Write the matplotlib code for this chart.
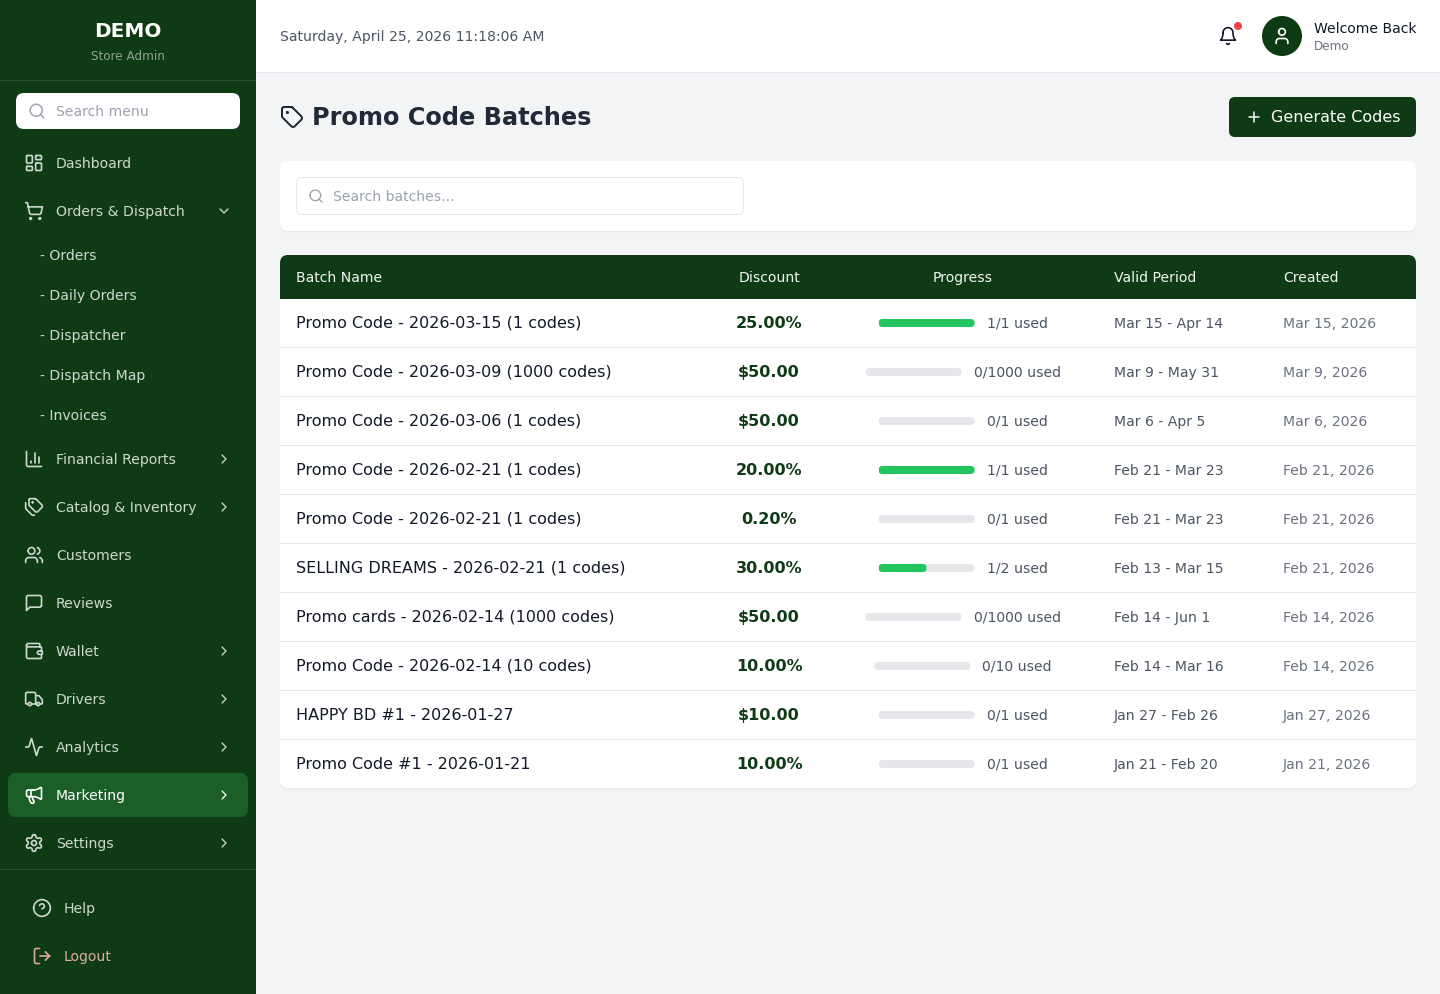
import re
import math
import matplotlib
matplotlib.use("Agg")
import matplotlib.pyplot as plt
from matplotlib.patches import FancyBboxPatch, PathPatch, Circle, Rectangle
from matplotlib.path import Path

# ---------- content ----------
BATCH_NAMES = ["Promo Code - 2026-03-15 (1 codes)", "Promo Code - 2026-03-09 (1000 codes)",
               "Promo Code - 2026-03-06 (1 codes)", "Promo Code - 2026-02-21 (1 codes)",
               "Promo Code - 2026-02-21 (1 codes)", "SELLING DREAMS - 2026-02-21 (1 codes)",
               "Promo cards - 2026-02-14 (1000 codes)", "Promo Code - 2026-02-14 (10 codes)",
               "HAPPY BD #1 - 2026-01-27", "Promo Code #1 - 2026-01-21"]
DISCOUNTS = ["25.00%", "$50.00", "$50.00", "20.00%", "0.20%", "30.00%", "$50.00", "10.00%", "$10.00", "10.00%"]
USED = [1, 0, 0, 1, 0, 1, 0, 0, 0, 0]
TOTAL = [1, 1000, 1, 1, 1, 2, 1000, 10, 1, 1]
PERIODS = ["Mar 15 - Apr 14", "Mar 9 - May 31", "Mar 6 - Apr 5", "Feb 21 - Mar 23", "Feb 21 - Mar 23",
           "Feb 13 - Mar 15", "Feb 14 - Jun 1", "Feb 14 - Mar 16", "Jan 27 - Feb 26", "Jan 21 - Feb 20"]
CREATED = ["Mar 15, 2026", "Mar 9, 2026", "Mar 6, 2026", "Feb 21, 2026", "Feb 21, 2026",
           "Feb 21, 2026", "Feb 14, 2026", "Feb 14, 2026", "Jan 27, 2026", "Jan 21, 2026"]
SUB_ITEMS = ["- Orders", "- Daily Orders", "- Dispatcher", "- Dispatch Map", "- Invoices"]

# ---------- icons (24 unit grid) ----------
ICONS = {
 "search": ["M21 21 L16.7 16.7", "C 11 11 8"],
 "dash": ["R 3 3 7 9 1", "R 14 3 7 5 1", "R 14 12 7 9 1", "R 3 16 7 5 1"],
 "cart": ["C 8 21 1", "C 19 21 1", "M2.05 2.05h2l2.66 12.42a2 2 0 0 0 2 1.58h9.78a2 2 0 0 0 1.95-1.57l1.65-7.43H5.12"],
 "down": ["M6 9l6 6 6-6"],
 "right": ["M9 18l6-6-6-6"],
 "chart": ["M3 3v16a2 2 0 0 0 2 2h16", "M18 17V9", "M13 17V5", "M8 17v-3"],
 "tags": ["M13.172 2a2 2 0 0 1 1.414.586l6.71 6.71a2.4 2.4 0 0 1 0 3.408l-4.592 4.592a2.4 2.4 0 0 1-3.408 0l-6.71-6.71A2 2 0 0 1 6 9.172V3a1 1 0 0 1 1-1z",
          "M2 7v6.172a2 2 0 0 0 .586 1.414l6.71 6.71a2.4 2.4 0 0 0 3.18.262", "C 10.5 6.5 .5"],
 "users": ["M16 21v-2a4 4 0 0 0-4-4H6a4 4 0 0 0-4 4v2", "C 9 7 4", "M22 21v-2a4 4 0 0 0-3-3.87", "M16 3.13a4 4 0 0 1 0 7.75"],
 "msg": ["M21 15a2 2 0 0 1-2 2H7l-4 4V5a2 2 0 0 1 2-2h14a2 2 0 0 1 2 2z"],
 "wallet": ["M19 7V4a1 1 0 0 0-1-1H5a2 2 0 0 0 0 4h15a1 1 0 0 1 1 1v4h-3a2 2 0 0 0 0 4h3a1 1 0 0 0 1-1v-2a1 1 0 0 0-1-1",
            "M3 5v14a2 2 0 0 0 2 2h15a1 1 0 0 0 1-1v-4"],
 "truck": ["M14 18V6a2 2 0 0 0-2-2H4a2 2 0 0 0-2 2v11a1 1 0 0 0 1 1h2", "M15 18H9",
           "M19 18h2a1 1 0 0 0 1-1v-3.65a1 1 0 0 0-.22-.624l-3.48-4.35A1 1 0 0 0 17.52 8H14", "C 17 18 2", "C 7 18 2"],
 "activity": ["M22 12h-2.48a2 2 0 0 0-1.93 1.46l-2.35 8.36a.25.25 0 0 1-.48 0L9.24 2.18a.25.25 0 0 0-.48 0l-2.35 8.36A2 2 0 0 1 4.49 12H2"],
 "mega": ["M11 6a13 13 0 0 0 8.4-2.8A1 1 0 0 1 21 4v12a1 1 0 0 1-1.6.8A13 13 0 0 0 11 14H5a2 2 0 0 1-2-2V8a2 2 0 0 1 2-2z",
          "M6 14a12 12 0 0 0 2.4 7.2 2 2 0 0 0 3.2-2.4A8 8 0 0 1 10 14", "M8 6v8"],
 "gear": ["M12.22 2h-.44a2 2 0 0 0-2 2v.18a2 2 0 0 1-1 1.73l-.43.25a2 2 0 0 1-2 0l-.15-.08a2 2 0 0 0-2.73.73l-.22.38a2 2 0 0 0 .73 2.73l.15.1a2 2 0 0 1 1 1.72v.51a2 2 0 0 1-1 1.74l-.15.09a2 2 0 0 0-.73 2.73l.22.38a2 2 0 0 0 2.73.73l.15-.08a2 2 0 0 1 2 0l.43.25a2 2 0 0 1 1 1.73V20a2 2 0 0 0 2 2h.44a2 2 0 0 0 2-2v-.18a2 2 0 0 1 1-1.73l.43-.25a2 2 0 0 1 2 0l.15.08a2 2 0 0 0 2.73-.73l.22-.39a2 2 0 0 0-.73-2.73l-.15-.08a2 2 0 0 1-1-1.74v-.5a2 2 0 0 1 1-1.74l.15-.09a2 2 0 0 0 .73-2.73l-.22-.38a2 2 0 0 0-2.73-.73l-.15.08a2 2 0 0 1-2 0l-.43-.25a2 2 0 0 1-1-1.73V4a2 2 0 0 0-2-2z", "C 12 12 3"],
 "help": ["C 12 12 10", "M9.09 9a3 3 0 0 1 5.83 1c0 2-3 3-3 3", "M12 17h.01"],
 "logout": ["M9 21H5a2 2 0 0 1-2-2V5a2 2 0 0 1 2-2h4", "M16 17l5-5-5-5", "M21 12H9"],
 "bell": ["M6 8a6 6 0 0 1 12 0c0 7 3 9 3 9H3s3-2 3-9", "M10.3 21a1.94 1.94 0 0 0 3.4 0"],
 "user": ["M19 21v-2a4 4 0 0 0-4-4H9a4 4 0 0 0-4 4v2", "C 12 7 4"],
 "plus": ["M5 12h14", "M12 5v14"],
 "tag": ["M12.586 2.586A2 2 0 0 0 11.172 2H4a2 2 0 0 0-2 2v7.172a2 2 0 0 0 .586 1.414l8.704 8.704a2.426 2.426 0 0 0 3.42 0l6.58-6.58a2.426 2.426 0 0 0 0-3.42z", "C 7.5 7.5 .5"],
}
NUM = r"[-+]?(?:\d*\.\d+|\d+)"


def arc_to_cubics(x1, y1, rx, ry, large, sweep, x2, y2):
    # circular arcs only are needed by the icons
    r = rx
    dx, dy = (x1 - x2) / 2, (y1 - y2) / 2
    d2 = dx * dx + dy * dy
    if d2 == 0:
        return []
    if d2 > r * r:
        r = math.sqrt(d2)
    k = math.sqrt(max(0, (r * r - d2) / d2))
    if large == sweep:
        k = -k
    cxp, cyp = k * dy, -k * dx
    cx, cy = cxp + (x1 + x2) / 2, cyp + (y1 + y2) / 2
    t1 = math.atan2(y1 - cy, x1 - cx)
    t2 = math.atan2(y2 - cy, x2 - cx)
    dt = t2 - t1
    if sweep and dt < 0:
        dt += 2 * math.pi
    if not sweep and dt > 0:
        dt -= 2 * math.pi
    n = max(1, int(math.ceil(abs(dt) / (math.pi / 2))))
    out = []
    a = 4 / 3 * math.tan(dt / n / 4)
    for i in range(n):
        s = t1 + dt * i / n
        e = t1 + dt * (i + 1) / n
        p0 = (cx + r * math.cos(s), cy + r * math.sin(s))
        p3 = (cx + r * math.cos(e), cy + r * math.sin(e))
        out.append((p0[0] - a * r * math.sin(s), p0[1] + a * r * math.cos(s),
                    p3[0] + a * r * math.sin(e), p3[1] - a * r * math.cos(e), p3[0], p3[1]))
    return out


def parse_svg(d):
    verts, codes = [], []
    x = y = sx = sy = 0.0
    lastc = None
    for cmd, body in re.findall(r"([MmLlHhVvCcSsAaZz])([^MmLlHhVvCcSsAaZz]*)", d):
        v = [float(t) for t in re.findall(NUM, body)]
        rel = cmd.islower()
        c = cmd.upper()
        if c == "Z":
            verts.append((sx, sy)); codes.append(Path.LINETO)
            x, y = sx, sy
            lastc = None
            continue
        size = {"M": 2, "L": 2, "H": 1, "V": 1, "C": 6, "S": 4, "A": 7}[c]
        for i in range(0, len(v), size):
            a = v[i:i + size]
            ox, oy = (x, y) if rel else (0, 0)
            if c not in "CS":
                lastc = None
            if c == "M" and i == 0:
                x, y = a[0] + ox, a[1] + oy
                sx, sy = x, y
                verts.append((x, y)); codes.append(Path.MOVETO)
            elif c in "ML":
                x, y = a[0] + ox, a[1] + oy
                verts.append((x, y)); codes.append(Path.LINETO)
            elif c == "H":
                x = a[0] + ox
                verts.append((x, y)); codes.append(Path.LINETO)
            elif c == "V":
                y = a[0] + oy
                verts.append((x, y)); codes.append(Path.LINETO)
            elif c == "C":
                pts = [(a[0] + ox, a[1] + oy), (a[2] + ox, a[3] + oy), (a[4] + ox, a[5] + oy)]
                verts += pts; codes += [Path.CURVE4] * 3
                lastc = pts[1]
                x, y = pts[2]
            elif c == "S":
                c1 = (2 * x - lastc[0], 2 * y - lastc[1]) if lastc else (x, y)
                pts = [c1, (a[0] + ox, a[1] + oy), (a[2] + ox, a[3] + oy)]
                verts += pts; codes += [Path.CURVE4] * 3
                lastc = pts[1]
                x, y = pts[2]
            elif c == "A":
                ex, ey = a[5] + ox, a[6] + oy
                for q in arc_to_cubics(x, y, a[0], a[1], int(a[3]), int(a[4]), ex, ey):
                    verts += [(q[0], q[1]), (q[2], q[3]), (q[4], q[5])]
                    codes += [Path.CURVE4] * 3
                x, y = ex, ey
    return verts, codes


def expand(item):
    if item.startswith("C "):
        cx, cy, r = [float(t) for t in re.findall(NUM, item[2:])]
        return f"M{cx - r} {cy}A{r} {r} 0 1 1 {cx + r} {cy}A{r} {r} 0 1 1 {cx - r} {cy}"
    if item.startswith("R "):
        x, y, w, h, r = [float(t) for t in re.findall(NUM, item[2:])]
        return (f"M{x + r} {y}H{x + w - r}A{r} {r} 0 0 1 {x + w} {y + r}V{y + h - r}A{r} {r} 0 0 1 {x + w - r} {y + h}"
                f"H{x + r}A{r} {r} 0 0 1 {x} {y + h - r}V{y + r}A{r} {r} 0 0 1 {x + r} {y}")
    return item


# ---------- canvas ----------
W, H = 1440, 994
fig = plt.figure(figsize=(W / 100, H / 100), dpi=100)
ax = fig.add_axes([0, 0, 1, 1])
ax.set_xlim(0, W)
ax.set_ylim(H, 0)
ax.axis("off")
plt.rcParams["font.family"] = ["DejaVu Sans"]

BG = "#f3f4f6"
GREEN = "#0f3b14"
ACTIVE = "#1b5e28"
MENU = "#cdd8ce"
LINE = "#e5e7eb"


def icon(name, cx, cy, size, color, stroke=2.0):
    s = size / 24
    for item in ICONS[name]:
        v, c = parse_svg(expand(item))
        v = [(cx + (px - 12) * s, cy + (py - 12) * s) for px, py in v]
        ax.add_patch(PathPatch(Path(v, c), fill=False, ec=color, lw=stroke * s * 0.72,
                               capstyle="round", joinstyle="round", zorder=6))


def T(x, base, s, px, color, weight="normal", ha="left"):
    return ax.text(x, base - 0.3, s, fontsize=px * 0.72, color=color, fontweight=weight,
                   ha=ha, va="baseline", zorder=7, family="DejaVu Sans")


def box(x0, y0, x1, y1, r, fc, ec="none", lw=0, z=2):
    p = FancyBboxPatch((x0 + r, y0 + r), x1 - x0 - 2 * r, y1 - y0 - 2 * r,
                       boxstyle=f"round,pad={r},rounding_size={r}", fc=fc, ec=ec, lw=lw, zorder=z)
    ax.add_patch(p)
    return p


def rect(x0, y0, x1, y1, fc, z=1):
    ax.add_patch(Rectangle((x0, y0), x1 - x0, y1 - y0, fc=fc, ec="none", zorder=z))


def shadow(x0, y0, x1, y1, r):
    box(x0, y0 + 2, x1, y1 + 2, r, "#eff0f2", z=1)
    box(x0, y0 + 1, x1, y1 + 1, r, "#e6e8eb", z=1)


# ---------- page ----------
rect(0, 0, W, H, BG, 0)
rect(256, 0, W, 72, "white")
rect(256, 72, W, 73, LINE)

# ---------- sidebar ----------
rect(0, 0, 256, H, GREEN)
T(128, 37, "DEMO", 20, "white", "bold", "center")
T(128, 60, "Store Admin", 12, "#8da391", ha="center")
rect(0, 80, 256, 81, "#274f2c", 2)
rect(0, 869, 256, 870, "#274f2c", 2)
box(16, 93, 240, 129, 8, "white")
icon("search", 37, 111, 18, "#9ca3af", 2)
T(56, 116, "Search menu", 14, "#9ca3af")
box(8, 773, 248, 817, 8, ACTIVE)

MENU_ROWS = [("Dashboard", "dash", 163, None), ("Orders & Dispatch", "cart", 211, "down"),
             ("Financial Reports", "chart", 459, "right"), ("Catalog & Inventory", "tags", 507, "right"),
             ("Customers", "users", 555, None), ("Reviews", "msg", 603, None), ("Wallet", "wallet", 651, "right"),
             ("Drivers", "truck", 699, "right"), ("Analytics", "activity", 747, "right"),
             ("Marketing", "mega", 795, "right"), ("Settings", "gear", 843, "right")]
for label, ic, y, chev in MENU_ROWS:
    col = "white" if label == "Marketing" else MENU
    icon(ic, 34, y, 20, col, 2)
    T(56, y + 5, label, 14, col)
    if chev:
        icon(chev, 224, y, 16, col, 2)
for i, label in enumerate(SUB_ITEMS):
    T(40, 260 + 40 * i, label, 14, MENU)
icon("help", 42, 908, 20, MENU, 2)
T(64, 913, "Help", 14, MENU)
icon("logout", 42, 956, 20, "#e0aa98", 2)
T(64, 961, "Logout", 14, "#e0aa98")

# ---------- top bar ----------
T(280, 41, "Saturday, April 25, 2026 11:18:06 AM", 14, "#4b5563")
icon("bell", 1228, 36, 20, "#111827", 2)
ax.add_patch(Circle((1238, 26), 4, fc="#ef4444", ec="none", zorder=8))
ax.add_patch(Circle((1282, 36), 20, fc=GREEN, ec="none", zorder=5))
icon("user", 1282, 36, 20, "white", 2)
T(1314, 33, "Welcome Back", 14, "#111827")
T(1314, 50, "Demo", 12, "#6b7280")

# ---------- title ----------
icon("tag", 292, 117, 24, "#1f2937", 2)
T(312, 125, "Promo Code Batches", 24, "#1f2937", "bold")
box(1229, 97, 1416, 137, 6, GREEN)
icon("plus", 1254, 117, 18, "white", 2)
T(1271, 122, "Generate Codes", 16, "white")

# ---------- search card ----------
shadow(280, 161, 1416, 231, 8)
box(280, 161, 1416, 231, 8, "white")
box(296.5, 177.5, 743.5, 214.5, 6, "white", LINE, 0.72, 3)
icon("search", 316, 196, 16, "#9ca3af", 2)
T(333, 201, "Search batches...", 14, "#9ca3af")

# ---------- table ----------
shadow(280, 255, 1416, 788, 8)
box(280, 255, 1416, 788, 8, "white")
box(280, 255, 1416, 310, 8, GREEN, z=3)
rect(280, 299, 1416, 312, "white", 3)
HEADERS = [("Batch Name", 296, "left"), ("Discount", 769, "center"), ("Progress", 963, "center"),
           ("Valid Period", 1114, "left"), ("Created", 1283, "left")]
for label, x, ha in HEADERS:
    T(x, 282, label, 14, "#f2f5f2", ha=ha)

renderer = fig.canvas.get_renderer()
ROW_H = 49
for i, name in enumerate(BATCH_NAMES):
    cy = 323 + ROW_H * i
    if i:
        rect(280, cy - 25, 1416, cy - 24, LINE, 4)
    T(296, cy + 5, name, 16, "#111827")
    T(769, cy + 5, DISCOUNTS[i], 16, GREEN, "bold", "center")
    T(1114, cy + 5, PERIODS[i], 14, "#4b5563")
    T(1283, cy + 5, CREATED[i], 14, "#6b7280")
    label = f"{USED[i]}/{TOTAL[i]} used"
    t = T(0, cy + 5, label, 14, "#4b5563")
    tw = t.get_window_extent(renderer).width
    left = 963 - (96 + 12 + tw) / 2
    t.set_x(left + 96 + 12)
    box(left, cy - 4, left + 96, cy + 4, 4, LINE, z=4)
    fill = 96 * USED[i] / TOTAL[i]
    if fill:
        shape = FancyBboxPatch((left + 4, cy), fill - 8, 0, boxstyle="round,pad=4,rounding_size=4",
                               transform=ax.transData)
        bars = ax.barh(cy, fill, left=left, height=8, color="#22c55e", zorder=5)
        for b in bars:
            b.set_clip_path(shape)

ax.set_xlim(0, W)
ax.set_ylim(H, 0)
fig.savefig("out.png", dpi=100)
